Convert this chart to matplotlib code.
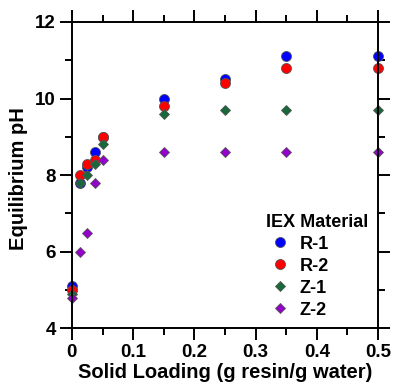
import matplotlib.pyplot as plt
from matplotlib.ticker import MultipleLocator

plt.rcParams['font.family'] = ['Liberation Sans', 'DejaVu Sans']
plt.rcParams['font.weight'] = 'bold'

loading = [0, 0.0125, 0.025, 0.0375, 0.05, 0.15, 0.25, 0.35, 0.5]
ph_r1 = [5.1, 7.8, 8.2, 8.6, 9.0, 10.0, 10.5, 11.1, 11.1]
ph_r2 = [5.0, 8.0, 8.3, 8.4, 9.0, 9.8, 10.4, 10.8, 10.8]
ph_z1 = [4.9, 7.8, 8.0, 8.3, 8.8, 9.6, 9.7, 9.7, 9.7]
ph_z2 = [4.8, 6.0, 6.5, 7.8, 8.4, 8.6, 8.6, 8.6, 8.6]

series = [
    ('R-1', ph_r1, 'o', '#0000ff', 7.2),
    ('R-2', ph_r2, 'o', '#ff0000', 7.2),
    ('Z-1', ph_z1, 'D', '#17683a', 5.0),
    ('Z-2', ph_z2, 'D', '#9400cc', 5.0),
]

fig = plt.figure(figsize=(3.95, 3.92), dpi=100)
ax = fig.add_axes([0.182, 0.1625, 0.775, 0.7815])

for name, vals, mk, col, ms in series:
    ax.plot(loading, vals, linestyle='none', marker=mk, color=col, markersize=ms,
            markeredgecolor='#555555', markeredgewidth=0.6, label=name, clip_on=False)

ax.set_xlim(0, 0.5)
ax.set_ylim(4, 12)
ax.xaxis.set_major_locator(MultipleLocator(0.1))
ax.xaxis.set_minor_locator(MultipleLocator(0.05))
ax.yaxis.set_major_locator(MultipleLocator(2))
ax.yaxis.set_minor_locator(MultipleLocator(1))
ax.set_xticks([0, 0.1, 0.2, 0.3, 0.4, 0.5])
ax.set_xticklabels(['0', '0.1', '0.2', '0.3', '0.4', '0.5'])

ax.tick_params(which='both', direction='out', top=True, right=True,
               width=1.4, labelsize=13.5, pad=3)
ax.tick_params(which='major', length=8.5)
ax.tick_params(which='minor', length=5)
for sp in ax.spines.values():
    sp.set_linewidth(1.4)

ax.set_xlabel('Solid Loading (g resin/g water)', fontsize=14.5, fontweight='bold', labelpad=1)
ax.set_ylabel('Equilibrium pH', fontsize=14.5, fontweight='bold')
ax.yaxis.set_label_coords(-0.145, 0.49)

leg = ax.legend(title='IEX Material', loc='lower right', frameon=False,
                fontsize=13, title_fontproperties={'weight': 'bold', 'size': 13},
                handletextpad=0.3, labelspacing=0.28, borderaxespad=0.3,
                handlelength=1.6, bbox_to_anchor=(1.008, -0.01))
leg._legend_box.align = 'left'

fig.savefig('out.png', dpi=100)
